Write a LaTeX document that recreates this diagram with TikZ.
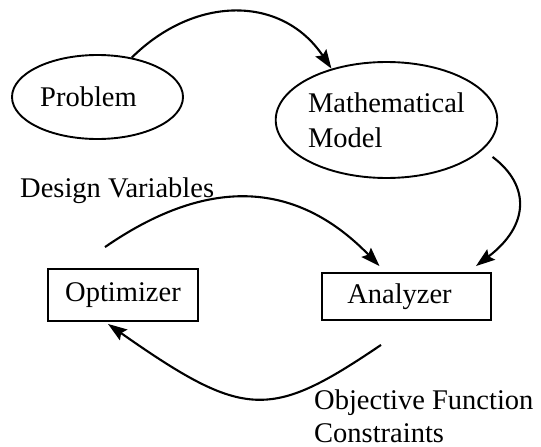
\documentclass[tikz,border=0pt]{standalone}
\usepackage{fontspec}
\setmainfont{Liberation Serif}
\usetikzlibrary{shapes,positioning,arrows.meta}

\tikzset{
  blob/.style={draw, ellipse, line width=1.9pt, inner sep=0pt},
  blockbox/.style={draw, rectangle, line width=1.9pt, inner sep=0pt},
  flow/.style={line width=2.1pt, -{Stealth[length=19pt,width=13pt,inset=3pt]}},
  txt/.style={font=\fontsize{28.5}{35}\selectfont}
}

\begin{document}
\begin{tikzpicture}[x=1pt, y=-1pt]

% Fix the page size
\useasboundingbox (0,0) rectangle (541,447);

% Draw the ellipses
\node[blob, txt, minimum width=171pt, minimum height=84pt] (prob) at (97.5,97) {Problem\hspace*{18pt}};
\node[blob, txt, align=left, minimum width=219pt, minimum height=116pt] (model) at (386.5,120) {Mathematical\\Model};

% Draw the boxes
\node[blockbox, txt, minimum width=150pt, minimum height=52pt] (opt) at (123,295) {Optimizer};
\node[blockbox, txt, minimum width=169pt, minimum height=47pt] (ana) at (406.5,296.5) {Analyzer\hspace*{14pt}};

% Add the labels
\node[txt, anchor=base west, inner sep=0pt] (dvlabel) at (20,197) {Design Variables};
\node[txt, anchor=base west, align=left, inner sep=0pt, font=\fontsize{28.5}{33}\selectfont] (oflabel) at (314,442) {Objective Function\\Constraints};

% Problem to model
\draw[flow] (prob.49) .. controls (195,-5) and (282,-5) .. (model.137);

% Model to analyzer
\draw[flow] ([xshift=19pt]model.-23) .. controls (530,185) and (530,225) .. ([xshift=-16pt,yshift=6pt]ana.north east);

% Optimizer to analyzer
\draw[flow] ([xshift=-18pt,yshift=21pt]opt.north) .. controls (205,178) and (294,178) .. ([xshift=-27pt,yshift=6pt]ana.north);

% Analyzer to optimizer
\draw[flow] ([xshift=-25.5pt,yshift=-24pt]ana.south) .. controls (270,420) and (245,420) .. ([xshift=-15pt,yshift=-2pt]opt.south);

\end{tikzpicture}
\end{document}
